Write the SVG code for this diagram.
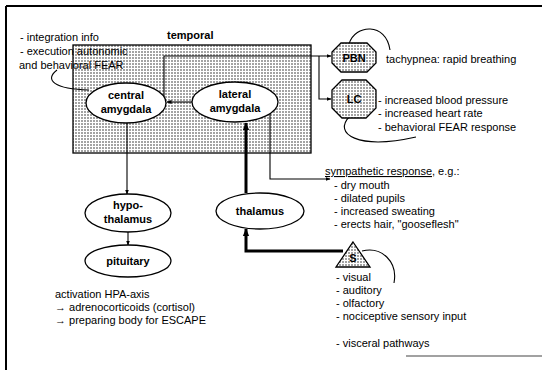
<svg xmlns="http://www.w3.org/2000/svg" width="542" height="372" viewBox="0 0 542 372">
<defs>
<pattern id="dots" width="3" height="3" patternUnits="userSpaceOnUse">
<rect width="3" height="3" fill="#fff"/>
<circle cx="1" cy="1" r="0.7" fill="#000"/>
</pattern>
<marker id="ah" viewBox="0 0 10 10" refX="9" refY="5" markerWidth="5" markerHeight="5" orient="auto" markerUnits="userSpaceOnUse">
<path d="M0,1 L10,5 L0,9 z" fill="#000"/>
</marker>
<marker id="ahb" viewBox="0 0 10 10" refX="9" refY="5" markerWidth="8" markerHeight="8" orient="auto" markerUnits="userSpaceOnUse">
<path d="M0,1 L10,5 L0,9 z" fill="#000"/>
</marker>
<style>
text{font-family:"Liberation Sans",Arial,sans-serif;font-size:11px;fill:#000}
.b{font-weight:bold;font-size:11px}
.c{text-anchor:middle}
.node{fill:#fff;stroke:#000;stroke-width:1.3}
.dot{fill:url(#dots);stroke:#000;stroke-width:1.3}
.ln{fill:none;stroke:#000;stroke-width:1.1}
.thick{fill:none;stroke:#000;stroke-width:3}
</style>
</defs>
<rect width="542" height="372" fill="#fff"/>
<g id="frame" stroke="#000" fill="none">
<path d="M6,6 H542" stroke-width="1.8"/>
<path d="M6,6 V370" stroke-width="2"/>
<path d="M406,356 H542" stroke-width="1.2" stroke="#444"/>
</g>
<g id="temporal">
<rect x="73" y="45" width="238" height="108" class="dot" stroke-width="1.2"/>
<text x="167" y="39" class="b">temporal</text>
</g>
<g id="connectors">
<path class="ln" d="M164,97 V56 H331" marker-end="url(#ah)"/>
<path class="ln" d="M319,56 V99 H331" marker-end="url(#ah)"/>
<path class="ln" d="M192,102 H167" marker-end="url(#ah)"/>
<path class="ln" d="M127,123 V194" marker-end="url(#ah)"/>
<path class="ln" d="M128,232 V245" marker-end="url(#ah)"/>
<path class="ln" d="M270,113 V179 H330" marker-end="url(#ah)"/>
<path class="thick" d="M246,193 V123" marker-end="url(#ahb)"/>
<path class="thick" d="M343,251 H246 V229" marker-end="url(#ahb)"/>
<path class="ln" d="M57,70 C44,80 54,89 89,90"/>
<path class="ln" d="M349,44 C355,24 386,22 390,50"/>
<path class="ln" d="M350,116 C332,134 358,150 416,137"/>
<path class="ln" d="M362,251 C382,246 398,262 394,283"/>
</g>
<g id="central-amygdala">
<ellipse cx="126" cy="103" rx="40" ry="20" class="node"/>
<text x="126" y="99" class="b c">central</text>
<text x="126" y="113" class="b c">amygdala</text>
</g>
<g id="lateral-amygdala">
<ellipse cx="235" cy="102" rx="43" ry="20" class="node"/>
<text x="235" y="98" class="b c">lateral</text>
<text x="235" y="112" class="b c">amygdala</text>
</g>
<g id="hypothalamus">
<ellipse cx="128" cy="213" rx="43" ry="19" class="node"/>
<text x="128" y="209" class="b c">hypo-</text>
<text x="128" y="223" class="b c">thalamus</text>
</g>
<g id="pituitary">
<ellipse cx="128" cy="261" rx="43" ry="16" class="node"/>
<text x="128" y="265" class="b c">pituitary</text>
</g>
<g id="thalamus">
<ellipse cx="260" cy="211" rx="44" ry="18" class="node"/>
<text x="260" y="215" class="b c">thalamus</text>
</g>
<g id="PBN">
<polygon class="dot" points="341,43 367,43 376,52 376,63 367,72 341,72 332,63 332,52"/>
<text x="354" y="62" class="b c">PBN</text>
</g>
<g id="LC">
<polygon class="dot" points="342,80 366,80 376,90 376,108 366,118 342,118 332,108 332,90"/>
<text x="354" y="103" class="b c">LC</text>
</g>
<g id="S">
<polygon class="dot" points="353,242 370,267 336,267"/>
<text x="353" y="262" class="b c">S</text>
</g>
<g id="texts">
<text x="20" y="41">- integration info</text>
<text x="20" y="55">- execution autonomic</text>
<text x="19" y="69">and behavioral FEAR</text>
<text x="386" y="63">tachypnea: rapid breathing</text>
<text x="378" y="104">- increased blood pressure</text>
<text x="378" y="117">- increased heart rate</text>
<text x="378" y="131">- behavioral FEAR response</text>
<text x="325" y="175"><tspan text-decoration="underline">sympathetic response</tspan>, e.g.:</text>
<text x="334" y="189">- dry mouth</text>
<text x="334" y="202">- dilated pupils</text>
<text x="334" y="215">- increased sweating</text>
<text x="334" y="228">- erects hair, "gooseflesh"</text>
<text x="336" y="281">- visual</text>
<text x="336" y="294">- auditory</text>
<text x="336" y="307">- olfactory</text>
<text x="336" y="320">- nociceptive sensory input</text>
<text x="336" y="347">- visceral pathways</text>
<text x="55" y="298">activation HPA-axis</text>
<text x="55" y="311">→ adrenocorticoids (cortisol)</text>
<text x="55" y="324">→ preparing body for ESCAPE</text>
</g>
</svg>
